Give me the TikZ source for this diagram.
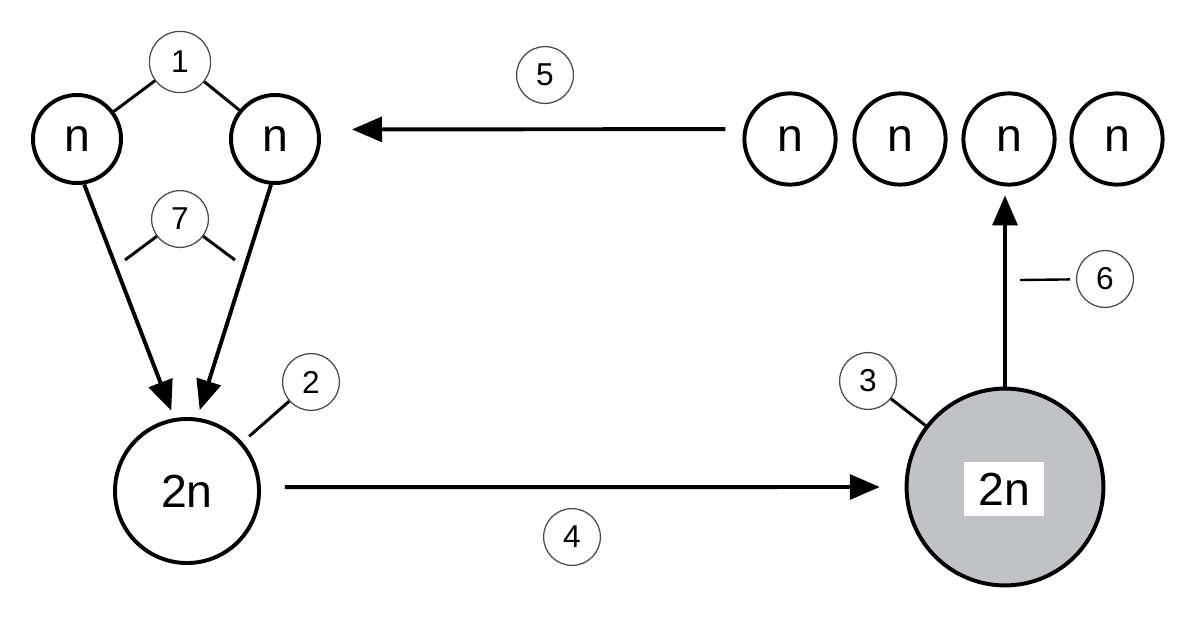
\documentclass[tikz,border=0pt]{standalone}
\usepackage{fontspec}
\setmainfont{Liberation Sans}
\usetikzlibrary{arrows.meta}
\definecolor{cellgray}{RGB}{193,194,198}

\begin{document}
\begin{tikzpicture}[x=0.025cm,y=-0.025cm,
  ncell/.style={circle,draw=black,line width=2.8pt,inner sep=0pt,minimum size=2.2cm,font=\fontsize{33}{33}\selectfont},
  callout/.style={circle,draw=black!70,line width=0.9pt,inner sep=0pt,minimum size=1.42cm,font=\fontsize{22.5}{22.5}\selectfont},
  lead/.style={line width=2.1pt},
  flow/.style={line width=2.8pt,-{Triangle[length=0.75cm,width=0.62cm]}}]
\useasboundingbox (0,0) rectangle (1200,617);
\node [ncell] (nL) at (77,139) {n};
\node [ncell] (nR) at (275,139) {n};
\node [ncell,minimum size=3.6cm] (tn) at (187,491) {2n};
\node [ncell,minimum size=4.92cm,fill=cellgray] (gr) at (1005,487) {};
\node [fill=white,inner sep=0pt,minimum width=2cm,minimum height=1.35cm,font=\fontsize{33}{33}\selectfont] (grl) at (1004,489) {2n};
\node [ncell,minimum size=2.28cm] (m1) at (790,139) {n};
\node [ncell,minimum size=2.28cm] (m2) at (900,139) {n};
\node [ncell,minimum size=2.28cm] (m3) at (1009,139) {n};
\node [ncell,minimum size=2.28cm] (m4) at (1117,139) {n};
\node [callout,minimum size=1.53cm] (c1) at (180,62) {1};
\node [callout] (c2) at (311,382) {2};
\node [callout] (c3) at (868,381) {3};
\node [callout] (c4) at (572,537) {4};
\node [callout] (c5) at (545,75) {5};
\node [callout] (c6) at (1105,279) {6};
\node [callout] (c7) at (180,219) {7};
\coordinate (e7l) at (125,260);
\coordinate (e7r) at (235,260);
\coordinate (e6) at (1020,280);
\draw [lead] (c1) -- (nL);
\draw [lead] (c1) -- (nR);
\draw [lead] (c7) -- (e7l);
\draw [lead] (c7) -- (e7r);
\draw [lead,shorten >=0.22cm] (c2) -- (tn);
\draw [lead] (c3) -- (gr);
\draw [lead,line width=1.7pt,shorten <=0.15cm] (c6) -- (e6);
\draw [flow,shorten >=0.2cm] (nL.-81) -- (tn.100);
\draw [flow,shorten >=0.2cm] (nR.-95) -- (tn.82);
\draw [flow,shorten <=0.6cm,shorten >=0.62cm] (tn.3) -- (gr.west);
\draw [flow,shorten >=0.22cm] (gr.north) -- (gr.north |- m3.south);
\draw [flow,shorten <=0.45cm,shorten >=0.8cm] (m1.168) -- (nR.12);
\end{tikzpicture}
\end{document}
